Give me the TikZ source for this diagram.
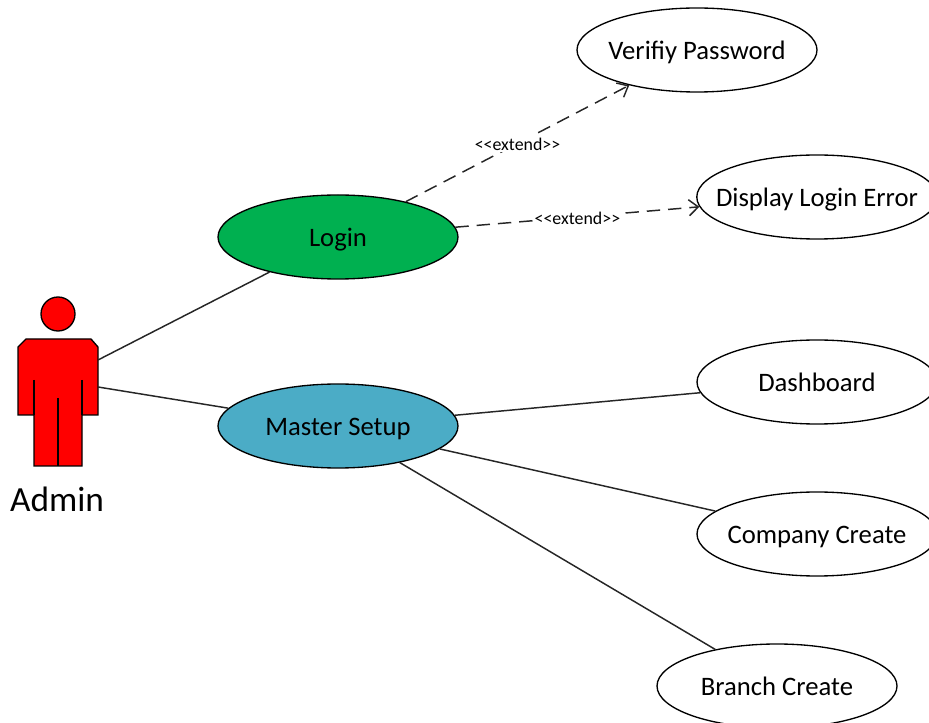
\documentclass[tikz,border=0pt]{standalone}
\usepackage{fontspec}
\setmainfont{Carlito}
\usepackage{xcolor}
\usetikzlibrary{shapes.geometric,arrows.meta}
\definecolor{LoginGreen}{HTML}{00b050}
\definecolor{SetupBlue}{HTML}{4bacc6}
\definecolor{ActorRed}{HTML}{ff0000}
\tikzset{
  usecase/.style={draw,ellipse,line width=1pt,minimum width=180pt,minimum height=63pt,inner xsep=-12pt,inner ysep=0pt,
    text height=14.5pt,text depth=0pt,font=\fontsize{20}{22}\selectfont},
  link/.style={draw=black!85,line width=1.1pt},
  extendlink/.style={link,dash pattern=on 10pt off 6pt,-{Straight Barb[length=7pt,width=12pt]}},
  extendlabel/.style={fill=white,inner sep=1pt,text height=10.5pt,text depth=0pt,font=\fontsize{13.4}{15}\selectfont},
  actor/.style={draw=black,line width=1pt,fill=ActorRed}
}

\begin{document}
\begin{tikzpicture}[x=0.75pt,y=-0.75pt]
    \path[use as bounding box,clip] (0,0) rectangle (929,723);

    % actor
    \draw[actor] (58,314) circle[radius=17];
    \draw[actor] (26,339) -- (91,339) -- (98,347) -- (98,415) -- (82,415) -- (82,466)
      -- (34,466) -- (34,415) -- (18,415) -- (18,347) -- cycle;
    \foreach \x/\y in {34/380,82/380,58/398} {
     \draw[line width=1.5pt] (\x,\y) -- (\x,{\y<390 ? 415 : 466});
    }
    \node[font=\fontsize{26.5}{28}\selectfont] (admin) at (57,499) {Admin};
    \coordinate (armtop) at (98,360);
    \coordinate (armlow) at (98,387);

    % use cases
    \node[usecase,fill=LoginGreen] (login) at (338,237) {Login};
    \node[usecase,fill=SetupBlue] (setup) at (338,426) {Master Setup};
    \foreach \name/\x/\y/\txt in {verify/697/50/Verifiy Password,error/817/197/Display Login Error,
      dash/817/382/Dashboard,company/817/534/Company Create,branch/777/686/Branch Create} {
     \node[usecase] (\name) at (\x,\y) {\txt};
    }

    \draw[link] (armtop) -- (login);
    \draw[link] (armlow) -- (setup);
    \foreach \target in {dash,company,branch} {
     \draw[link] (setup) -- (\target);
    }
    \draw[extendlink] (login) -- node[extendlabel] (extendup) {<{}<extend>{}>} (verify);
    \draw[extendlink] (login) -- node[extendlabel] (extendlow) {<{}<extend>{}>} (error);
\end{tikzpicture}
\end{document}
